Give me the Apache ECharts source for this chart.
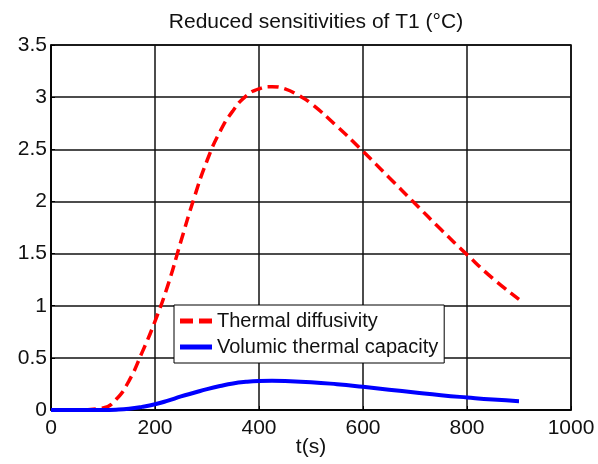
<!DOCTYPE html>
<html>
<head>
<meta charset="utf-8">
<script src="https://cdn.jsdelivr.net/npm/echarts@6/dist/echarts.min.js"></script>
<style>
html,body{margin:0;padding:0;background:#fff;}
#chart{width:598px;height:464px;}
</style>
</head>
<body>
<div id="chart"></div>
<script>
var titleText = 'Reduced sensitivities of T1 (°C)';
var xAxisName = 't(s)';
var seriesNames = ['Thermal diffusivity', 'Volumic thermal capacity'];

var diffT = [0, 50, 100, 125, 150, 175, 200, 225, 250, 275, 300, 325, 350, 375, 400, 425, 450, 475, 500, 550, 600, 650, 700, 750, 800, 850, 900];
var diffV = [0, 0, 0.02, 0.1, 0.28, 0.55, 0.85, 1.2, 1.62, 2.03, 2.39, 2.67, 2.87, 3.01, 3.08, 3.1, 3.08, 3.02, 2.94, 2.72, 2.48, 2.23, 1.98, 1.73, 1.49, 1.26, 1.06];

var capT = [0, 100, 125, 150, 175, 200, 225, 250, 275, 300, 325, 350, 375, 400, 425, 450, 500, 550, 600, 650, 700, 750, 800, 850, 900];
var capV = [0, 0, 0.003, 0.012, 0.03, 0.055, 0.09, 0.13, 0.165, 0.2, 0.23, 0.255, 0.27, 0.278, 0.28, 0.278, 0.267, 0.247, 0.222, 0.195, 0.168, 0.142, 0.12, 0.1, 0.085];

function pairs(xs, ys) { return xs.map(function (x, i) { return [x, ys[i]]; }); }

var chart = echarts.init(document.getElementById('chart'), null, {renderer: 'canvas'});
var font = 'Liberation Sans, Arial, sans-serif';
var dashIcon = 'path://M0,0h13v5h-13z M19,0h13v5h-13z';
var solidIcon = 'path://M0,0h32v5h-32z';
chart.setOption({
  animation: false,
  backgroundColor: '#fff',
  title: {
    text: titleText, left: 311, top: 7, textAlign: 'center',
    textStyle: {fontFamily: font, fontSize: 21, fontWeight: 'normal', color: '#111'}
  },
  grid: {left: 51, right: 27, top: 45, bottom: 54, containLabel: false, outerBoundsMode: 'none',
    show: true, borderColor: '#000', borderWidth: 1.5, backgroundColor: '#fff'},
  legend: {
    orient: 'vertical', left: 174, top: 305,
    padding: [6, 6, 6, 6], itemGap: 6, itemWidth: 32, itemHeight: 5,
    backgroundColor: '#fff', borderColor: '#000', borderWidth: 1,
    textStyle: {fontFamily: font, fontSize: 20, color: '#111'},
    data: [
      {name: seriesNames[0], icon: dashIcon},
      {name: seriesNames[1], icon: solidIcon}
    ]
  },
  xAxis: {
    type: 'value', min: 0, max: 1000, interval: 200,
    name: xAxisName, nameLocation: 'middle', nameGap: 27, nameMoveOverlap: false,
    nameTextStyle: {fontFamily: font, fontSize: 21, color: '#111'},
    axisLine: {show: true, lineStyle: {color: '#000', width: 1.5}},
    axisTick: {show: true, inside: true, length: 4, lineStyle: {color: '#000'}},
    axisLabel: {fontFamily: font, fontSize: 21, color: '#111', margin: 8, formatter: function (v) { return String(v); }},
    splitLine: {show: true, lineStyle: {color: '#111', width: 1.5}}
  },
  yAxis: {
    type: 'value', min: 0, max: 3.5, interval: 0.5,
    axisLine: {show: true, lineStyle: {color: '#000', width: 1.5}},
    axisTick: {show: true, inside: true, length: 4, lineStyle: {color: '#000'}},
    axisLabel: {fontFamily: font, fontSize: 21, color: '#111', margin: 4},
    splitLine: {show: true, lineStyle: {color: '#111', width: 1.5}}
  },
  series: [
    {
      name: seriesNames[0], type: 'line', smooth: true, symbol: 'none',
      data: pairs(diffT, diffV),
      lineStyle: {color: '#ff0000', width: 3.5, type: [11, 6]},
      itemStyle: {color: '#ff0000'}
    },
    {
      name: seriesNames[1], type: 'line', smooth: true, symbol: 'none',
      data: pairs(capT, capV),
      lineStyle: {color: '#0000ff', width: 4},
      itemStyle: {color: '#0000ff'}
    }
  ]
});
</script>
</body>
</html>
